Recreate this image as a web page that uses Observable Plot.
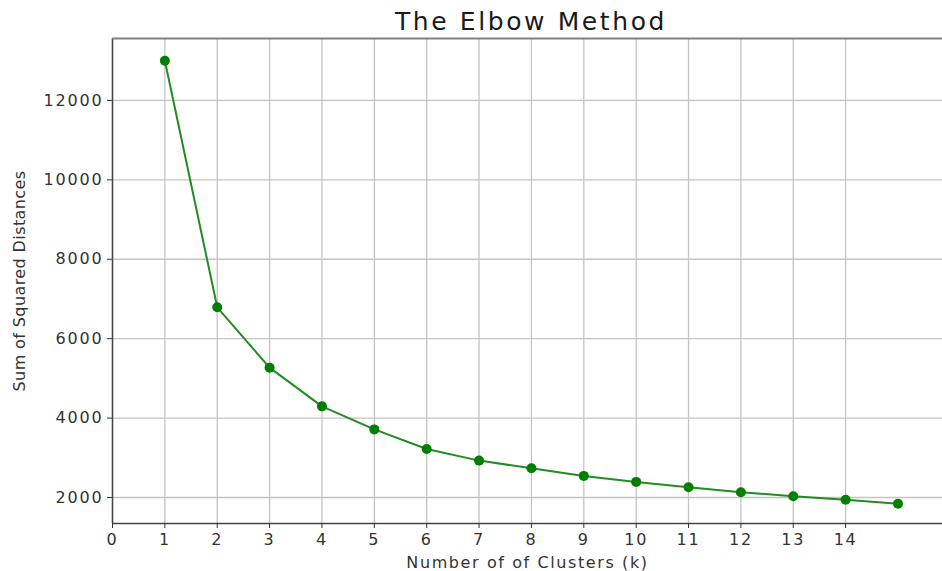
<!DOCTYPE html>
<html>
<head>
<meta charset="utf-8">
<script src="https://cdn.jsdelivr.net/npm/d3@7"></script>
<script src="https://cdn.jsdelivr.net/npm/@observablehq/plot@0.6"></script>
<style>
  html, body { margin: 0; padding: 0; background: #fff; }
  #title { width: 942px; height: 36px; box-sizing: border-box; padding-left: 120px; text-align: center;
           font-family: "DejaVu Sans", sans-serif; font-size: 25px; line-height: 44px; color: #1a1a1a; letter-spacing: 2.6px; }
  g[aria-label="x-axis tick label"] text, g[aria-label="y-axis tick label"] text { letter-spacing: 1.8px; }
  g[aria-label="x-axis label"] text { letter-spacing: 1.6px; }
  g[aria-label="y-axis label"] text { letter-spacing: 0.4px; }
</style>
</head>
<body>
<div id="title">The Elbow Method</div>
<div id="chart"></div>
<script>
const clusters = [1, 2, 3, 4, 5, 6, 7, 8, 9, 10, 11, 12, 13, 14, 15];
const sse = [13000, 6790, 5270, 4295, 3715, 3222, 2929, 2736, 2544, 2393, 2259, 2134, 2033, 1941, 1841];
const xTicks = [0, 1, 2, 3, 4, 5, 6, 7, 8, 9, 10, 11, 12, 13, 14];
const yTicks = [2000, 4000, 6000, 8000, 10000, 12000];
const xDomain = [0, 15.85];
const yDomain = [1345, 13560];

const data = clusters.map((k, i) => ({k, v: sse[i]}));

const chart = Plot.plot({
  width: 942,
  height: 535,
  marginLeft: 112,
  marginRight: 0,
  marginTop: 2,
  marginBottom: 48,
  style: {fontFamily: "DejaVu Sans, sans-serif", fontSize: "16px", color: "#333", background: "#fff"},
  x: {domain: xDomain},
  y: {domain: yDomain},
  marks: [
    Plot.ruleX(xTicks, {stroke: "#c4c4c4", strokeWidth: 1.3}),
    Plot.ruleY(yTicks, {stroke: "#c4c4c4", strokeWidth: 1.3}),
    Plot.ruleX([xDomain[0]], {stroke: "#444", strokeWidth: 1.5}),
    Plot.ruleY([yDomain[0]], {stroke: "#444", strokeWidth: 1.5}),
    Plot.ruleY([yDomain[1]], {stroke: "#808080", strokeWidth: 2}),
    Plot.axisX({ticks: xTicks, tickSize: 5, tickPadding: 5, fontSize: 16, tickFormat: d => String(d),
      label: "Number of of Clusters (k)", labelAnchor: "center", labelOffset: 44, labelArrow: "none"}),
    Plot.axisY({ticks: yTicks, tickSize: 5, tickPadding: 4, fontSize: 16, tickFormat: d => String(d),
      label: "Sum of Squared Distances", labelAnchor: "center", labelOffset: 99, labelArrow: "none"}),
    Plot.line(data, {x: "k", y: "v", stroke: "#228b22", strokeWidth: 2}),
    Plot.dot(data, {x: "k", y: "v", r: 5, fill: "#007f00", stroke: "none"})
  ]
});
document.getElementById("chart").appendChild(chart);
</script>
</body>
</html>
